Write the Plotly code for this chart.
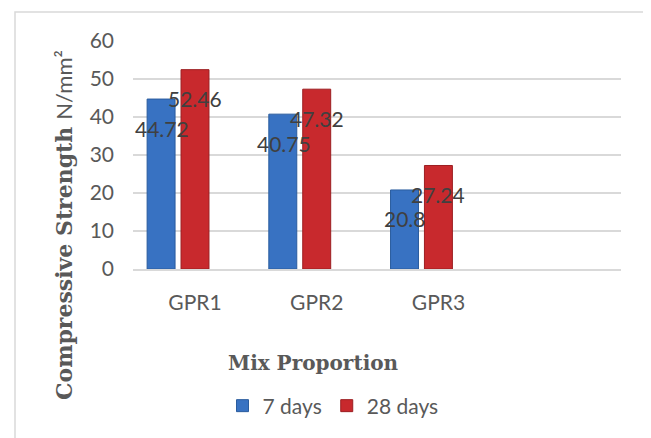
import plotly.graph_objects as go

categories = ["GPR1", "GPR2", "GPR3", " "]
days7 = [44.72, 40.75, 20.8, None]
days28 = [52.46, 47.32, 27.24, None]
empty = [None, None, None, None]
label7 = ["44.72", "40.75", "20.8"]
label28 = ["52.46", "47.32", "27.24"]

OFF = 8  # page body margin of the browser
W, H = 651 - OFF, 438 - OFF
L, R, T, B = 133 - OFF, 30, 41 - OFF, 169
pw, ph = W - L - R, H - T - B

def px(x):
    return (x - OFF - L) / pw

def py(y):
    return (H - B - (y - OFF)) / ph

fig = go.Figure()
fig.add_trace(go.Bar(name="7 days", x=categories, y=days7,
                     marker=dict(color="#3872c2", line=dict(color="#2a5c9e", width=1))))
fig.add_trace(go.Bar(name="28 days", x=categories, y=days28,
                     marker=dict(color="#c8292d", line=dict(color="#9c1e21", width=1))))
fig.add_trace(go.Bar(name="", x=categories, y=empty, showlegend=False,
                     marker=dict(color="rgba(0,0,0,0)")))

annotations = []
for i in range(3):
    annotations.append(dict(x=categories[i], y=days7[i], xref="x", yref="y",
                            text=label7[i], showarrow=False, xshift=-33, yshift=-29,
                            yanchor="middle", xanchor="center",
                            font=dict(family="Lato", size=21, color="#404040")))
    annotations.append(dict(x=categories[i], y=days28[i], xref="x", yref="y",
                            text=label28[i], showarrow=False, xshift=0, yshift=-29,
                            yanchor="middle", xanchor="center",
                            font=dict(family="Lato", size=21, color="#404040")))

annotations.append(dict(x=px(313), y=py(363), xref="paper", yref="paper",
                        text="<b>Mix Proportion</b>", showarrow=False,
                        xanchor="center", yanchor="middle",
                        font=dict(family="DejaVu Serif", size=20, color="#595959")))
annotations.append(dict(x=px(63), y=py(225), xref="paper", yref="paper",
                        text="<b>Compressive Strength</b> <span style='font-family:Lato;font-weight:normal'>N/mm²</span>",
                        showarrow=False, textangle=-90,
                        xanchor="center", yanchor="middle",
                        font=dict(family="DejaVu Serif", size=22, color="#595959")))

fig.update_layout(
    width=W, height=H,
    margin=dict(l=L, r=R, t=T, b=B),
    paper_bgcolor="white", plot_bgcolor="white",
    barmode="group", bargap=0.164, bargroupgap=0.176,
    font=dict(family="Lato", size=21, color="#595959"),
    showlegend=True,
    legend=dict(orientation="h", x=px(333), xanchor="center", y=py(406), yanchor="middle",
                font=dict(family="Lato", size=21, color="#595959"),
                itemwidth=30, tracegroupgap=0, bgcolor="rgba(0,0,0,0)"),
    annotations=annotations,
    shapes=[dict(type="rect", xref="paper", yref="paper",
                 x0=px(15), x1=px(649), y0=py(460), y1=py(12),
                 line=dict(color="#d9d9d9", width=1.5), fillcolor="rgba(0,0,0,0)", layer="below")],
)
fig.update_xaxes(type="category", showgrid=False, showline=True, linecolor="#d9d9d9", linewidth=1.5,
                 ticks="", ticklabelstandoff=14,
                 tickfont=dict(family="Lato", size=21, color="#595959"))
fig.update_yaxes(range=[0, 60], dtick=10, showgrid=True, gridcolor="#d9d9d9", gridwidth=1.5,
                 zeroline=False, showline=False, ticks="", ticklabelstandoff=18,
                 tickfont=dict(family="Lato", size=21, color="#595959"))

fig.write_html("out.html")
